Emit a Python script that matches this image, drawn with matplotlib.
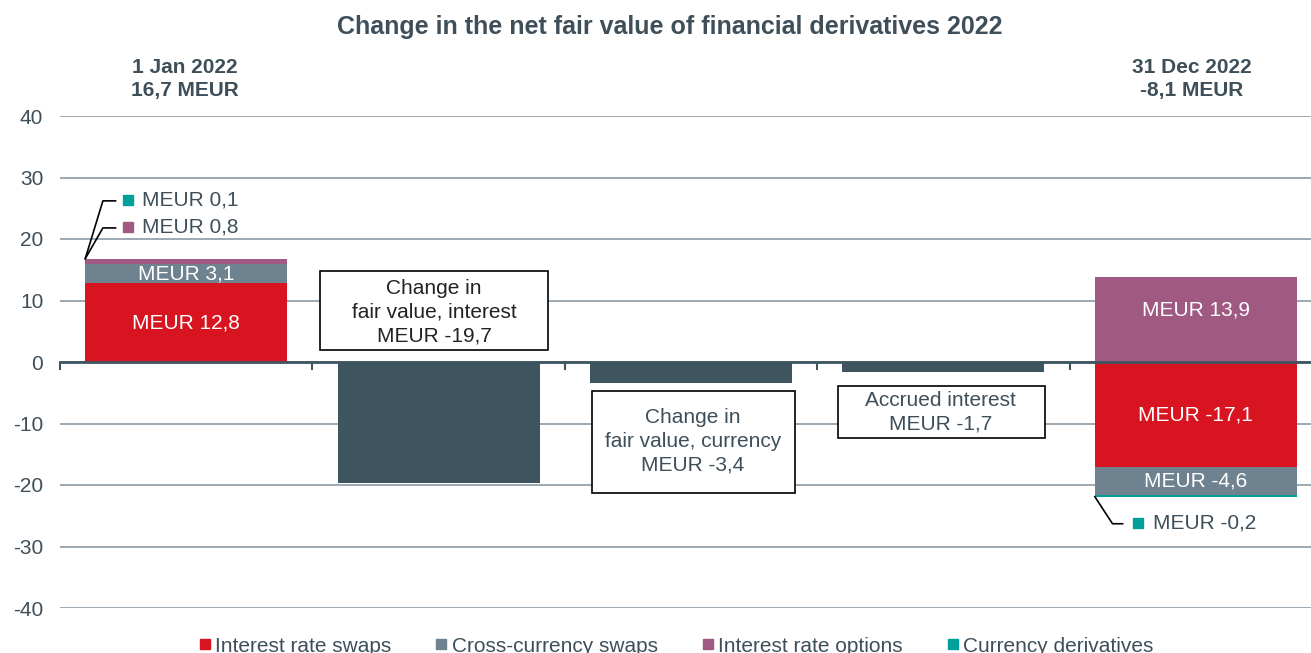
import matplotlib
matplotlib.use("Agg")
import matplotlib.pyplot as plt
from matplotlib.lines import Line2D
from matplotlib.patches import Rectangle

plt.rcParams["font.family"] = ["Liberation Sans", "DejaVu Sans"]
plt.rcParams["axes.unicode_minus"] = False

# data
categories = ["1 Jan 2022", "Change in fair value, interest", "Change in fair value, currency",
              "Accrued interest", "31 Dec 2022"]
series = ["Interest rate swaps", "Cross-currency swaps", "Interest rate options", "Currency derivatives"]
opening = [12.8, 3.1, 0.8, 0.1]          # 1 Jan 2022 stack
closing_pos = [13.9]                      # interest rate options
closing_neg = [-17.1, -4.6, -0.2]         # swaps, cross-currency, currency derivatives
changes = [-19.7, -3.4, -1.7]
change_labels = ["Change in\nfair value, interest\nMEUR -19,7",
                 "Change in\nfair value, currency\nMEUR -3,4",
                 "Accrued interest\nMEUR -1,7"]
head_left = "1 Jan 2022\n16,7 MEUR"
head_right = "31 Dec 2022\n-8,1 MEUR"

RED = "#D7141F"
GREY = "#6E828F"
PURPLE = "#A05A82"
TEAL = "#00A09A"
SLATE = "#3E545F"
TXT = "#3E4F5A"
colors = [RED, GREY, PURPLE, TEAL]

fig = plt.figure(figsize=(13.11, 6.53), dpi=100)
ax = fig.add_axes([60 / 1311, 45 / 653, 1262 / 1311, 492 / 653])
W = 0.8
FS = 15

# opening stack
bottom = 0
for v, c in zip(opening, colors):
    ax.bar(0, v, W, bottom=bottom, color=c, zorder=3)
    bottom += v
ax.text(0, opening[0] / 2, "MEUR 12,8", color="white", ha="center", va="center", fontsize=FS, zorder=4)
ax.text(0, opening[0] + opening[1] / 2, "MEUR 3,1", color="white", ha="center", va="center", fontsize=FS, zorder=4)

# leaders for small segments
top = sum(opening)
for ylab, txt, c in [(26.2, "MEUR 0,1", TEAL), (21.8, "MEUR 0,8", PURPLE)]:
    ax.plot([-0.4, -0.33, -0.28], [top, ylab, ylab], color="black", lw=1.2, zorder=4)
    ax.plot(-0.23, ylab + 0.2, marker="s", ms=7, color=c, zorder=4, clip_on=False)
    ax.text(-0.175, ylab + 0.2, txt, color=TXT, ha="left", va="center", fontsize=FS)

# changes
for i, v in enumerate(changes, start=1):
    ax.bar(i, v, W, color=SLATE, zorder=3)
# label boxes: (x0, x1, y0, y1, text x, text y, text colour)
boxes = [(0.530, 1.433, 1.95, 14.8, 0.982, 8.1, "#222222"),
         (1.608, 2.412, -21.3, -4.72, 2.008, -12.85, TXT),
         (2.582, 3.403, -12.36, -3.9, 2.99, -8.13, TXT)]
for (x0, x1, y0, y1, tx, ty, tc), lab in zip(boxes, change_labels):
    ax.add_patch(Rectangle((x0, y0), x1 - x0, y1 - y0, fc="white", ec="black", lw=1.2, zorder=5))
    ax.text(tx, ty, lab, color=tc, ha="center", va="center", fontsize=FS, linespacing=1.32, zorder=6)

# closing stack
ax.bar(4, closing_pos[0], W, color=PURPLE, zorder=3)
ax.text(4, 8.5, "MEUR 13,9", color="white", ha="center", va="center", fontsize=FS, zorder=4)
bottom = 0
for v, c in zip(closing_neg, [RED, GREY, TEAL]):
    ax.bar(4, v, W, bottom=bottom, color=c, zorder=3)
    bottom += v
ax.text(4, closing_neg[0] / 2, "MEUR -17,1", color="white", ha="center", va="center", fontsize=FS, zorder=4)
ax.text(4, closing_neg[0] + closing_neg[1] / 2, "MEUR -4,6", color="white", ha="center", va="center", fontsize=FS, zorder=4)
low = sum(closing_neg)
ax.plot([3.6, 3.67, 3.71], [low, -26.3, -26.3], color="black", lw=1.2, zorder=4)
ax.plot(3.77, -26.1, marker="s", ms=7, color=TEAL, zorder=4)
ax.text(3.83, -26.1, "MEUR -0,2", color=TXT, ha="left", va="center", fontsize=FS)

# axes styling
ax.set_xlim(-0.5, 4.5)
ax.set_ylim(-40, 40)
ax.set_yticks(range(-40, 41, 10))
ax.tick_params(axis="y", length=0, labelsize=FS, labelcolor=TXT, pad=12)
ax.yaxis.grid(True, color="#8C9BA5", lw=1.2, zorder=0)
ax.set_axisbelow(True)
for s in ["left", "right", "top"]:
    ax.spines[s].set_visible(False)
ax.spines["bottom"].set_position(("data", 0))
ax.spines["bottom"].set_color(SLATE)
ax.spines["bottom"].set_linewidth(2)
ax.spines["bottom"].set_zorder(4)
ax.set_xticks([-0.5, 0.5, 1.5, 2.5, 3.5, 4.5])
ax.set_xticklabels([])
ax.tick_params(axis="x", direction="out", length=6, width=1.5, color=SLATE)

# header texts
fig.text(670 / 1311, 1 - 27 / 653, "Change in the net fair value of financial derivatives 2022",
         ha="center", va="center", fontsize=18, fontweight="bold", color=TXT)
fig.text(185 / 1311, 1 - 79 / 653, head_left, ha="center", va="center", fontsize=FS,
         fontweight="bold", color=TXT, linespacing=1.27)
fig.text(1192 / 1311, 1 - 79 / 653, head_right, ha="center", va="center", fontsize=FS,
         fontweight="bold", color=TXT, linespacing=1.27)

# legend
handles = [Line2D([], [], marker="s", ls="", ms=7, color=c) for c in colors]
fig.legend(handles, series, loc="center", bbox_to_anchor=(675 / 1311, 1 - 646 / 653), ncol=4,
           frameon=False, fontsize=FS, labelcolor=TXT, handletextpad=0.1, columnspacing=2.0,
           handlelength=0.8)

fig.savefig("out.png", dpi=100)
